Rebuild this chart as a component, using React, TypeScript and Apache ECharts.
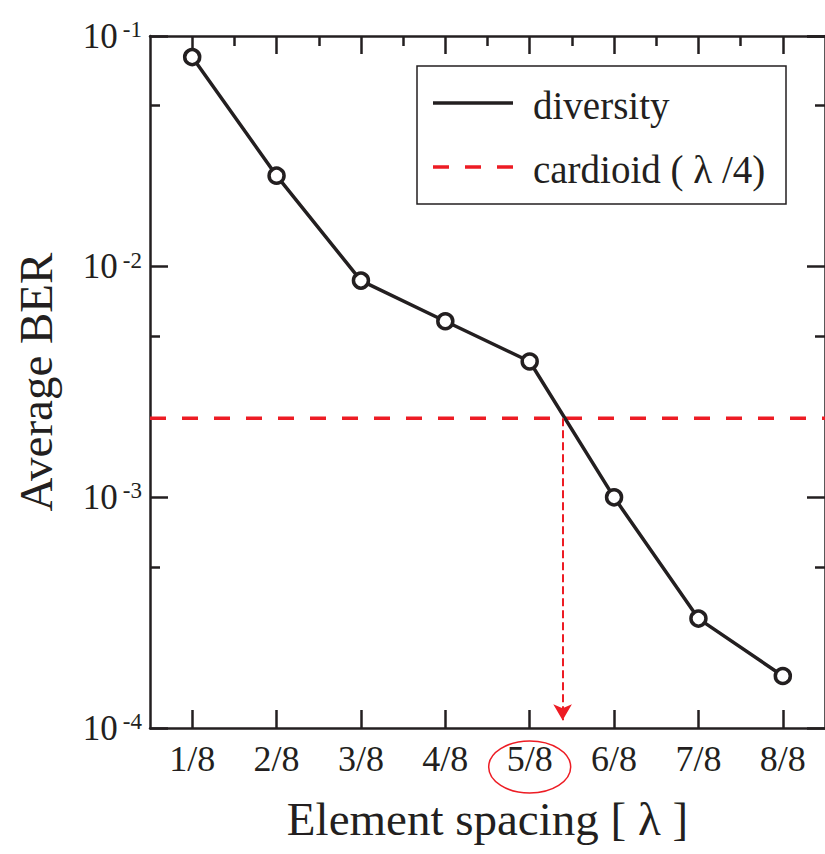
import React, { useEffect, useRef } from 'react';
import * as echarts from 'echarts';

// ---- data ----
const categories = ['1/8', '2/8', '3/8', '4/8', '5/8', '6/8', '7/8', '8/8'];
const positions = [1, 2, 3, 4, 5, 6, 7, 8];
const diversityBER = [0.081, 0.0248, 0.0087, 0.0058, 0.00388, 0.001, 0.000298, 0.000168];
const cardioidBER = 0.0022;
const crossingSpacing = 5.39; // where the cardioid level meets the diversity curve
const arrowEndBER = 1.08e-4;
const minorTickValues = [5e-4, 5e-3, 5e-2];
const highlightedCategory = 5;
const legendNames = ['diversity', 'cardioid ( λ /4)'];

export default function App() {
  const ref = useRef<HTMLDivElement>(null);

  useEffect(() => {
    const chart = echarts.init(ref.current!, null, { renderer: 'svg' });
    const font = '"Liberation Serif", "Times New Roman", serif';
    const ink = '#231F20';
    const red = '#ED1C24';
    const xMin = 0.5;
    const xMax = 8.5;
    const midpoints = positions.slice(0, -1).map((p) => p + 0.5);
    const minorLog = minorTickValues.map((v) => Math.log10(v));

    const axisLine = { show: true, onZero: false, lineStyle: { color: ink, width: 2.5 } };
    const tick = (length: number, customValues?: number[]) => ({
      show: true,
      inside: true,
      length,
      ...(customValues ? { customValues } : {}),
      lineStyle: { color: ink, width: 2.5 },
    });

    const option: any = {
      animation: false,
      backgroundColor: '#fff',
      grid: { left: 150, top: 36, width: 678, height: 692, containLabel: false },
      xAxis: [
        {
          type: 'value',
          position: 'bottom',
          min: xMin,
          max: xMax,
          axisLine,
          splitLine: { show: false },
          axisTick: tick(18, positions),
          axisLabel: {
            customValues: positions,
            formatter: (v: number) => categories[Math.round(v) - 1] ?? '',
            fontSize: 36,
            fontFamily: font,
            color: ink,
            margin: 13,
          },
          name: 'Element spacing [ λ ]',
          nameLocation: 'middle',
          nameGap: 67,
          nameTextStyle: { fontSize: 47, fontFamily: font, color: ink },
        },
        {
          type: 'value',
          position: 'top',
          min: xMin,
          max: xMax,
          axisLine,
          splitLine: { show: false },
          axisTick: tick(18, positions),
          axisLabel: { show: false },
        },
        {
          type: 'value',
          position: 'top',
          min: xMin,
          max: xMax,
          axisLine: { show: false },
          splitLine: { show: false },
          axisTick: tick(10, midpoints),
          axisLabel: { show: false },
        },
      ],
      yAxis: [
        {
          type: 'log',
          logBase: 10,
          min: 1e-4,
          max: 1e-1,
          position: 'left',
          axisLine,
          splitLine: { show: false },
          axisTick: tick(18),
          axisLabel: {
            margin: 8,
            formatter: (v: number) => `{a|10}{b|${Math.round(Math.log10(v))}}`,
            rich: {
              a: { fontSize: 35, fontFamily: font, color: ink, lineHeight: 36 },
              b: { fontSize: 23, fontFamily: font, color: ink, lineHeight: 23, verticalAlign: 'top', padding: [0, 0, 0, 5] },
            },
          },
          name: 'Average BER',
          nameLocation: 'middle',
          nameGap: 91,
          nameRotate: 90,
          nameTextStyle: { fontSize: 47, fontFamily: font, color: ink },
        },
        {
          type: 'value',
          min: -4,
          max: -1,
          position: 'left',
          axisLine: { show: false },
          splitLine: { show: false },
          axisTick: tick(10, minorLog),
          axisLabel: { show: false },
        },
        {
          type: 'log',
          logBase: 10,
          min: 1e-4,
          max: 1e-1,
          position: 'right',
          axisLine,
          splitLine: { show: false },
          axisTick: tick(18),
          axisLabel: { show: false },
        },
        {
          type: 'value',
          min: -4,
          max: -1,
          position: 'right',
          axisLine: { show: false },
          splitLine: { show: false },
          axisTick: tick(10, minorLog),
          axisLabel: { show: false },
        },
      ],
      series: [
        {
          name: legendNames[1],
          type: 'line',
          xAxisIndex: 0,
          yAxisIndex: 0,
          data: [
            [xMin, cardioidBER],
            [xMax, cardioidBER],
          ],
          symbol: 'none',
          lineStyle: { color: red, width: 3.5, type: [16, 16] },
          z: 2,
          silent: true,
          markLine: {
            silent: true,
            symbol: ['none', 'arrow'],
            symbolSize: [14, 16],
            label: { show: false },
            itemStyle: { color: red },
            lineStyle: { color: red, width: 2, type: [8, 4] },
            emphasis: { disabled: true },
            data: [
              [
                { coord: [crossingSpacing, cardioidBER] },
                { coord: [crossingSpacing, arrowEndBER] },
              ],
            ],
          },
        },
        {
          name: legendNames[0],
          type: 'line',
          xAxisIndex: 0,
          yAxisIndex: 0,
          data: positions.map((p, i) => [p, diversityBER[i]]),
          symbol: 'circle',
          symbolSize: 15,
          itemStyle: { color: '#fff', borderColor: ink, borderWidth: 3.5 },
          lineStyle: { color: ink, width: 3.5 },
          z: 3,
          silent: true,
        },
      ],
    };

    chart.setOption(option);

    const cx = chart.convertToPixel({ xAxisIndex: 0 }, highlightedCategory) as number;

    chart.setOption({
      graphic: [
        {
          type: 'rect',
          shape: { x: 417, y: 66, width: 369, height: 138 },
          style: { fill: '#fff', stroke: ink, lineWidth: 1.5 },
          z: 10,
        },
        {
          type: 'line',
          shape: { x1: 433, y1: 103, x2: 513, y2: 103 },
          style: { stroke: ink, lineWidth: 3.5 },
          z: 11,
        },
        {
          type: 'text',
          x: 533,
          y: 105,
          style: { text: legendNames[0], font: `39px ${font}`, fill: ink, verticalAlign: 'middle' },
          z: 11,
        },
        {
          type: 'line',
          shape: { x1: 433, y1: 167, x2: 513, y2: 167 },
          style: { stroke: red, lineWidth: 3.5, lineDash: [16, 16] },
          z: 11,
        },
        {
          type: 'text',
          x: 533,
          y: 169,
          style: { text: legendNames[1], font: `39px ${font}`, fill: ink, verticalAlign: 'middle' },
          z: 11,
        },
        {
          type: 'ellipse',
          shape: { cx, cy: 767, rx: 41, ry: 26 },
          style: { fill: 'none', stroke: red, lineWidth: 1.5 },
          z: 11,
        },
      ],
    });

    return () => chart.dispose();
  }, []);

  return <div ref={ref} style={{ position: 'fixed', left: 0, top: 0, width: 825, height: 854 }} />;
}
